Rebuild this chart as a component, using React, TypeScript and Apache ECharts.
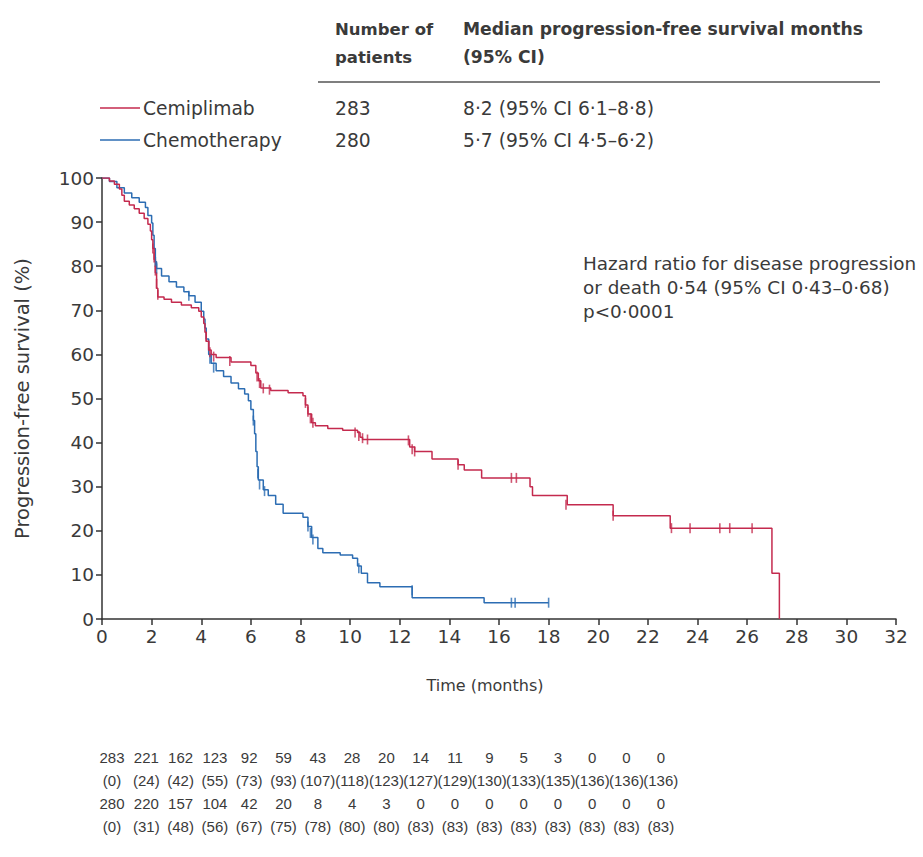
import React, { useEffect, useRef } from "react";
import * as echarts from "echarts";

// Kaplan–Meier step points [months, % progression-free]
const cemiplimabCurve: [number, number][] = [
  [0, 100], [0.3, 99.3], [0.5, 98.6], [0.7, 97.5], [0.8, 96.1], [0.9, 94.7], [1.1, 93.9], [1.3, 93],
  [1.5, 92], [1.7, 90.8], [1.85, 89.5], [1.95, 88], [2.0, 86], [2.05, 84], [2.1, 81.5], [2.15, 78.5],
  [2.2, 75], [2.25, 73], [2.5, 72.5], [2.8, 71.8], [3.2, 71.2], [3.6, 70.6], [3.9, 69.8], [4.0, 68.5],
  [4.1, 67], [4.15, 65], [4.2, 63], [4.3, 61], [4.4, 60], [4.6, 59.3], [5.2, 58.3], [6.0, 57.5],
  [6.2, 55.8], [6.3, 54], [6.4, 52.4], [6.8, 51.8], [7.5, 51.3], [8.1, 50.6], [8.2, 48.5], [8.3, 46.5],
  [8.45, 44.5], [8.6, 43.8], [9.1, 43.2], [9.7, 42.8], [10.3, 42.3], [10.4, 41.2], [10.5, 40.7],
  [12.4, 39], [12.6, 38], [13.3, 36.3], [14.35, 35], [14.6, 33.8], [15.3, 32], [17.25, 30], [17.35, 28],
  [18.75, 25.9], [20.6, 23.4], [22.9, 20.6], [27.0, 10.4], [27.3, 0],
];
const cemiplimabCensored: [number, number][] = [
  [2.05, 84], [2.1, 82], [2.15, 79], [2.2, 76], [2.25, 73.5], [4.2, 64], [4.3, 62], [4.35, 60.5],
  [4.5, 59.5], [5.15, 58.5], [6.25, 55], [6.35, 53.5], [6.5, 52.3], [6.75, 52], [8.2, 49], [8.3, 47],
  [8.4, 45.5], [8.5, 44.5], [10.2, 42.3], [10.35, 41.5], [10.5, 41], [10.7, 40.7], [12.35, 40.5],
  [12.5, 38.5], [12.6, 38], [14.35, 35], [16.5, 32], [16.7, 32], [18.7, 25.9], [20.6, 23.4],
  [22.95, 20.6], [23.7, 20.6], [24.9, 20.6], [25.3, 20.6], [26.2, 20.6],
];
const chemoCurve: [number, number][] = [
  [0, 100], [0.3, 99.2], [0.6, 97.8], [0.9, 96.6], [1.2, 95.5], [1.5, 94.5], [1.75, 93.3], [1.85, 91.5],
  [2.0, 89.8], [2.05, 87], [2.1, 84], [2.15, 81], [2.2, 79.5], [2.4, 77.8], [2.7, 76.5], [3.0, 75.3],
  [3.3, 74.2], [3.5, 73.3], [3.75, 71.8], [4.0, 69.8], [4.1, 68], [4.15, 66], [4.2, 63.5], [4.3, 60],
  [4.4, 58], [4.6, 56.3], [4.9, 55], [5.2, 53.5], [5.5, 52.2], [5.75, 51], [5.9, 49.5], [6.0, 47.5],
  [6.1, 45], [6.15, 42], [6.2, 38], [6.25, 34.5], [6.3, 31.5], [6.5, 29.3], [6.7, 28], [7.0, 26],
  [7.3, 24], [8.1, 23.1], [8.3, 21], [8.45, 18.5], [8.7, 16], [8.9, 15], [9.6, 14.5], [10.1, 13.8],
  [10.3, 12], [10.45, 10.4], [10.7, 8.2], [11.2, 7.3], [12.5, 4.8], [15.4, 3.7], [18.0, 3.7],
];
const chemoCensored: [number, number][] = [
  [2.15, 81], [2.2, 79.5], [3.5, 73.3], [4.35, 59], [4.5, 57], [6.1, 45], [6.28, 33], [6.35, 30.5],
  [6.55, 29], [8.3, 21], [8.4, 19.5], [8.5, 18], [10.35, 11.5], [12.5, 6.5], [16.5, 3.7], [16.65, 3.7],
  [18.0, 3.7],
];

const xTicks = { min: 0, max: 32, interval: 2 };
const yTicks = { min: 0, max: 100, interval: 10 };

const armNames = ["Cemiplimab", "Chemotherapy"];
const armPatients = ["283", "280"];
const armMedians = ["8·2 (95% CI 6·1–8·8)", "5·7 (95% CI 4·5–6·2)"];
const hazardLines = [
  "Hazard ratio for disease progression",
  "or death 0·54 (95% CI 0·43–0·68)",
  "p<0·0001",
];

const atRiskCemiplimab = [283, 221, 162, 123, 92, 59, 43, 28, 20, 14, 11, 9, 5, 3, 0, 0, 0];
const censoredCemiplimab = [0, 24, 42, 55, 73, 93, 107, 118, 123, 127, 129, 130, 133, 135, 136, 136, 136];
const atRiskChemo = [280, 220, 157, 104, 42, 20, 8, 4, 3, 0, 0, 0, 0, 0, 0, 0, 0];
const censoredChemo = [0, 31, 48, 56, 67, 75, 78, 80, 80, 83, 83, 83, 83, 83, 83, 83, 83];

const RED = "#c42a4e";
const BLUE = "#2c6db3";
const TXT = "#3a3a3a";
const FONT = "'DejaVu Sans', Verdana, sans-serif";
const TABLE_FONT = "'Liberation Sans', Arial, sans-serif";

export default function App() {
  const ref = useRef<HTMLDivElement>(null);
  useEffect(() => {
    document.body.style.margin = "0";
    if (!ref.current) return;
    const chart = echarts.init(ref.current, undefined, { renderer: "svg" });

    const graphics: any[] = [];
    const txt = (x: number, y: number, text: string, opts: any = {}) =>
      graphics.push({
        type: "text",
        x,
        y,
        silent: true,
        style: {
          text,
          fill: TXT,
          fontFamily: FONT,
          fontSize: 17,
          textAlign: "left",
          verticalAlign: "middle",
          textVerticalAlign: "middle",
          ...opts,
        },
      });

    // header
    txt(335, 29, "Number of", { fontWeight: "bold", fontSize: 16.5 });
    txt(335, 57, "patients", { fontWeight: "bold", fontSize: 16.5 });
    txt(463, 29, "Median progression-free survival months", { fontWeight: "bold", fontSize: 17.2 });
    txt(463, 57, "(95% CI)", { fontWeight: "bold", fontSize: 17.2 });
    graphics.push({
      type: "line",
      silent: true,
      shape: { x1: 318, y1: 82, x2: 880, y2: 82 },
      style: { stroke: "#555", lineWidth: 1.5 },
    });
    const legendColors = [RED, BLUE];
    armNames.forEach((name, i) => {
      const y = 108 + i * 32;
      graphics.push({
        type: "line",
        silent: true,
        shape: { x1: 100, y1: y, x2: 140, y2: y },
        style: { stroke: legendColors[i], lineWidth: 1.5 },
      });
      txt(143, y, name, { fontSize: 18.7 });
      txt(335, y, armPatients[i], { fontSize: 18.7 });
      txt(463, y, armMedians[i], { fontSize: 18.7 });
    });
    hazardLines.forEach((l, i) => txt(583, 263 + i * 24, l, { fontSize: 18.4 }));
    txt(485, 685, "Time (months)", { textAlign: "center", fontSize: 16 });

    // number at risk table
    const rows = [
      atRiskCemiplimab.map(String),
      censoredCemiplimab.map((v) => `(${v})`),
      atRiskChemo.map(String),
      censoredChemo.map((v) => `(${v})`),
    ];
    rows.forEach((row, r) => {
      row.forEach((s, c) => {
        txt(112 + c * 34.3, 757 + r * 23, s, { textAlign: "center", fontSize: 15, fontFamily: TABLE_FONT });
      });
    });

    const censorSymbol = {
      type: "scatter",
      symbol: "rect",
      symbolSize: [1.6, 10],
      silent: true,
      z: 3,
    };

    chart.setOption({
      animation: false,
      backgroundColor: "#ffffff",
      grid: { left: 102, right: 27, top: 178, bottom: 238 },
      xAxis: {
        type: "value",
        min: xTicks.min,
        max: xTicks.max,
        interval: xTicks.interval,
        axisLine: { show: true, onZero: false, lineStyle: { color: "#333", width: 1.5 } },
        axisTick: { show: true, inside: false, length: 6, lineStyle: { color: "#333", width: 1.5 } },
        axisLabel: { color: TXT, fontSize: 18.5, fontFamily: FONT, margin: 8 },
        splitLine: { show: false },
      },
      yAxis: {
        type: "value",
        min: yTicks.min,
        max: yTicks.max,
        interval: yTicks.interval,
        name: "Progression-free survival (%)",
        nameLocation: "middle",
        nameRotate: 90,
        nameGap: 70,
        nameTextStyle: { color: TXT, fontSize: 19.5, fontFamily: FONT },
        axisLine: { show: true, lineStyle: { color: "#333", width: 1.5 } },
        axisTick: { show: true, inside: false, length: 6, lineStyle: { color: "#333", width: 1.5 } },
        axisLabel: { color: TXT, fontSize: 18.5, fontFamily: FONT, margin: 8 },
        splitLine: { show: false },
      },
      series: [
        {
          name: "Chemotherapy",
          type: "line",
          step: "end",
          data: chemoCurve,
          showSymbol: false,
          lineStyle: { color: BLUE, width: 1.5 },
          z: 2,
        },
        {
          name: "Cemiplimab",
          type: "line",
          step: "end",
          data: cemiplimabCurve,
          showSymbol: false,
          lineStyle: { color: RED, width: 1.5 },
          z: 2,
        },
        { ...censorSymbol, name: "Chemotherapy censored", data: chemoCensored, itemStyle: { color: BLUE } },
        { ...censorSymbol, name: "Cemiplimab censored", data: cemiplimabCensored, itemStyle: { color: RED } },
      ],
      graphic: graphics,
    });
    return () => chart.dispose();
  }, []);
  return <div ref={ref} style={{ width: 923, height: 857 }} />;
}
